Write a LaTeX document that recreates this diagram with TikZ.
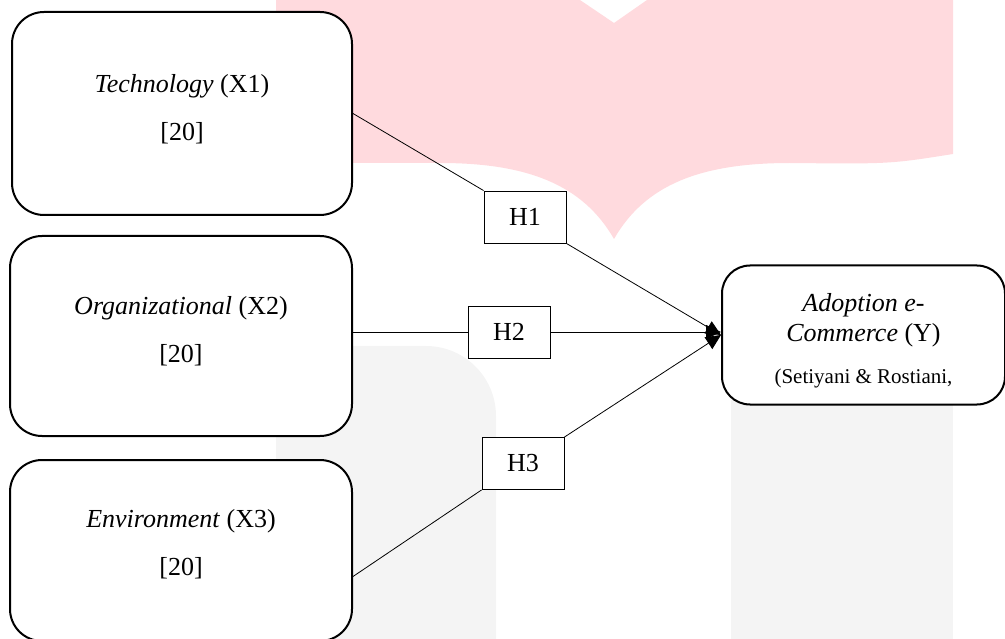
\documentclass[tikz,border=0pt]{standalone}
\usepackage{fontspec}
\setmainfont{Liberation Serif}
\usetikzlibrary{positioning, arrows.meta}

\definecolor{markpink}{RGB}{255,218,222}
\definecolor{markgray}{RGB}{244,244,244}

\tikzset{
  varbox/.style={draw, line width=2pt, rounded corners=32pt, fill=white, inner sep=0},
  vartext/.style={align=center, font=\fontsize{26}{48}\selectfont},
  hypbox/.style={draw, line width=0.9pt, fill=white, inner sep=0, minimum width=82pt, minimum height=52pt, font=\fontsize{26}{30}\selectfont},
  link/.style={line width=0.8pt},
  arr/.style={link, -{Triangle[length=15pt, width=14pt]}},
}

\begin{document}
\begin{tikzpicture}[x=1pt, y=-1pt]
  \useasboundingbox (0,0) rectangle (1005,639);
  \clip (0,0) rectangle (1005,639);

  % watermark
  \fill[markpink] (276,0) -- (580,0) -- (614,23) -- (647,0) -- (953,0) -- (953,154)
    .. controls (890,164) .. (790,163) .. controls (700,163) and (645,185) .. (614,239)
    .. controls (583,185) and (528,163) .. (440,163) -- (276,163) -- cycle;
  \fill[markgray] (276,660) |- (426,346) arc[start angle=-90, end angle=0, radius=70] -- (496,660) -- cycle;
  \fill[markgray] (731,660) rectangle (953,400);

  % variables
  \node[varbox, minimum width=340pt, minimum height=203pt] (x1) at (182,113.5) {};
  \node[vartext] (x1t) at ([yshift=4pt]x1.center) {\textit{Technology} (X1)\\{[20]}};
  \node[varbox, minimum width=342pt, minimum height=200pt] (x2) at (181,336) {};
  \node[vartext] (x2t) at ([yshift=5pt]x2.center) {\textit{Organizational} (X2)\\{[20]}};
  \node[varbox, minimum width=342pt, minimum height=181pt] (x3) at (181,550.5) {};
  \node[vartext] (x3t) at ([yshift=6.5pt]x3.center) {\textit{Environment} (X3)\\{[20]}};
  \node[varbox, rounded corners=28pt, minimum width=283pt, minimum height=139pt] (ec) at (863.5,335) {};
  \node[align=center, font=\fontsize{26}{30}\selectfont] (ect) at ([yshift=-6pt]ec.center)
    {\textit{Adoption e-}\\\textit{Commerce} (Y)\\[12pt]{\fontsize{21}{24}\selectfont (Setiyani \& Rostiani,}};

  % hypotheses
  \node[hypbox] (h1) at (525,217) {H1};
  \node[hypbox] (h2) at (509,332) {H2};
  \node[hypbox] (h3) at (523,463.5) {H3};

  \draw[link] (x1.east) -- (h1.north west);
  \draw[arr] (h1.south east) -- (ec.west);
  \draw[link] (x2.east |- h2.west) -- (h2.west);
  \draw[arr] (h2.east) -- (h2.east -| ec.west);
  \draw[link] ([yshift=-26pt]x3.east) -- (h3.south west);
  \draw[arr] (h3.north east) -- (ec.west);
\end{tikzpicture}
\end{document}
